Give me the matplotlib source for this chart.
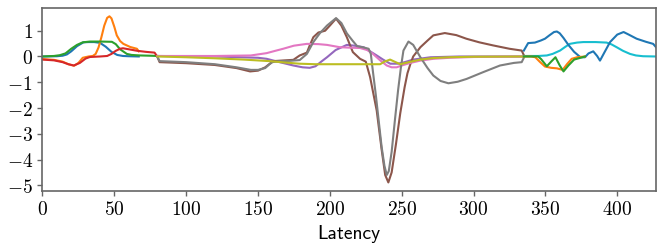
import matplotlib
matplotlib.use("Agg")
import matplotlib.pyplot as plt
from matplotlib.ticker import FuncFormatter

plt.rcParams['mathtext.fontset'] = 'cm'

# ---- first block (latency 0 - 80) ----
a0_x = [0, 10, 14, 17, 20, 24, 28.5, 32, 36, 40, 44, 48, 52, 56, 60, 67]
a0_y = [0, 0.01, 0.03, 0.08, 0.2, 0.4, 0.55, 0.56, 0.56, 0.53, 0.38, 0.18, 0.06, 0.02, 0.01, 0.0]

a1_x = [0, 8, 14, 18, 22, 25, 28, 32, 35, 37, 39, 41, 43, 45, 46.6, 48, 50, 51.7, 54, 56.3, 61, 65.7, 67]
a1_y = [-0.1, -0.13, -0.2, -0.3, -0.36, -0.25, -0.05, 0.0, 0.02, 0.1, 0.35, 0.75, 1.2, 1.5, 1.56, 1.48, 1.15, 0.82, 0.6, 0.49, 0.37, 0.3, 0.2]

a2_x = [0, 8, 12, 16, 20, 24, 28, 33, 40, 48.3, 51, 54, 58.7, 62, 68, 75, 80]
a2_y = [0, 0.02, 0.05, 0.12, 0.3, 0.45, 0.55, 0.58, 0.58, 0.57, 0.48, 0.28, 0.1, 0.06, 0.04, 0.03, 0.02]

a3_x = [0, 8, 14, 18, 21.8, 26, 30, 33, 40, 45, 48, 51, 54, 56, 60, 66, 72, 78, 79.6]
a3_y = [-0.12, -0.15, -0.22, -0.3, -0.35, -0.25, -0.08, -0.02, 0.0, 0.02, 0.1, 0.22, 0.3, 0.32, 0.28, 0.22, 0.18, 0.15, 0.02]

# ---- second block (latency 80 - 335) ----
b0_x = [80, 120, 150, 156, 165, 174.6, 181, 186, 190, 194, 198, 204, 211.8, 217, 223.5, 228, 232.6, 237, 242, 247.5, 252, 258, 270, 290, 335]
b0_y = [0.02, 0.0, -0.05, -0.09, -0.22, -0.35, -0.42, -0.44, -0.38, -0.2, -0.03, 0.25, 0.45, 0.42, 0.36, 0.2, 0.04, -0.12, -0.28, -0.28, -0.22, -0.12, -0.03, 0.0, 0.0]

b1_x = [80, 81.5, 100, 120, 135, 144.5, 150, 155, 160.5, 166, 174.6, 179, 184, 186, 188.5, 192, 196.7, 200, 204.3, 208, 211.8, 216, 221, 225, 228, 232.6, 236, 238.5, 240.7, 243, 246, 249, 252, 254, 256, 258, 263, 268, 272, 280, 288, 295, 304, 313.6, 325, 333.5, 335]
b1_y = [-0.02, -0.22, -0.26, -0.33, -0.45, -0.58, -0.55, -0.42, -0.18, -0.16, -0.13, 0.04, 0.15, 0.43, 0.75, 0.93, 1.0, 1.2, 1.47, 1.2, 0.75, 0.17, -0.09, -0.2, -0.8, -2.1, -3.6, -4.6, -4.89, -4.5, -3.4, -2.2, -1.2, -0.65, -0.3, 0.0, 0.36, 0.62, 0.82, 0.91, 0.83, 0.69, 0.55, 0.43, 0.3, 0.23, 0.05]

b2_x = [80, 120, 145, 156, 162, 167.5, 175, 184, 192, 198, 207, 215, 221, 226, 230, 235, 239.6, 243, 246.5, 250, 256, 263, 272, 283.5, 300, 335]
b2_y = [0.02, 0.02, 0.04, 0.13, 0.22, 0.3, 0.42, 0.49, 0.48, 0.45, 0.36, 0.34, 0.33, 0.25, 0.1, -0.15, -0.35, -0.42, -0.42, -0.35, -0.25, -0.16, -0.09, -0.05, -0.02, 0.0]

b3_x = [80, 81.5, 100, 120, 135, 145, 150, 155, 158, 160, 165, 172, 179, 184, 188.5, 193, 198, 204.3, 208, 211.8, 216, 219, 223.5, 227, 228.5, 230, 232, 234, 236, 238, 239.6, 241, 243, 245.4, 247.5, 249.5, 251.2, 254.7, 258, 263, 268, 272, 277, 282.5, 289, 295.2, 306.6, 318.4, 328, 333.5, 335]
b3_y = [-0.02, -0.18, -0.22, -0.3, -0.42, -0.52, -0.52, -0.45, -0.3, -0.22, -0.18, -0.17, -0.14, 0.1, 0.56, 0.9, 1.2, 1.49, 1.3, 0.9, 0.6, 0.4, 0.35, 0.3, 0.1, -0.6, -1.5, -2.5, -3.5, -4.25, -4.6, -4.45, -3.7, -2.4, -1.3, -0.4, 0.23, 0.58, 0.45, -0.03, -0.45, -0.74, -0.95, -1.04, -0.98, -0.87, -0.61, -0.35, -0.25, -0.22, -0.05]

b4_x = [80, 100, 120, 140, 158, 170, 179, 190, 200, 220, 235, 238, 241.9, 245, 249, 255, 263, 272, 283, 300, 335]
b4_y = [0.0, -0.03, -0.07, -0.12, -0.18, -0.24, -0.28, -0.3, -0.3, -0.3, -0.3, -0.2, -0.12, -0.2, -0.3, -0.22, -0.12, -0.06, -0.03, -0.01, 0.0]

# ---- third block (latency 335 - 427) ----
c0_x = [335, 345, 351, 355, 360.2, 364, 367, 372, 376.4, 385, 392.6, 396, 399.6, 404, 408.9, 413, 418, 427]
c0_y = [0.02, 0.02, 0.04, 0.1, 0.23, 0.38, 0.49, 0.54, 0.56, 0.56, 0.54, 0.47, 0.36, 0.22, 0.1, 0.04, 0.01, 0.0]

c1_x = [335, 338, 342.7, 346.8, 349.7, 353, 356, 358, 360, 362.6, 366, 370, 374.4, 377.5, 380, 383.3, 386, 388, 391, 395, 400, 404.4, 408, 413.5, 420, 425, 427]
c1_y = [0.23, 0.52, 0.54, 0.62, 0.69, 0.83, 0.95, 0.97, 0.9, 0.72, 0.45, 0.18, -0.03, -0.03, 0.12, 0.2, 0.02, -0.16, 0.15, 0.56, 0.85, 0.95, 0.85, 0.69, 0.57, 0.49, 0.36]

c2_x = [335, 340, 343, 346, 349.7, 354, 358, 362, 365, 368.3, 372, 377.5]
c2_y = [0.0, 0.0, -0.03, -0.2, -0.39, -0.44, -0.46, -0.52, -0.3, -0.09, -0.03, 0.0]

c3_x = [335, 345, 347, 351, 354, 357, 360, 362.6, 366, 370, 374.4, 377.5]
c3_y = [0.0, 0.0, -0.1, -0.38, -0.2, -0.03, -0.35, -0.58, -0.35, -0.12, -0.05, 0.0]

series = [(a0_x, a0_y), (a1_x, a1_y), (a2_x, a2_y), (a3_x, a3_y),
          (b0_x, b0_y), (b1_x, b1_y), (b2_x, b2_y), (b3_x, b3_y), (b4_x, b4_y),
          (c0_x, c0_y), (c1_x, c1_y), (c2_x, c2_y), (c3_x, c3_y)]

fig = plt.figure(figsize=(6.64, 2.5), dpi=100)
ax = fig.add_axes([0.064, 0.237, 0.924, 0.731])

for xs, ys in series:
    ax.plot(xs, ys, lw=1.5)

ax.set_xlim(0, 427)
ax.set_yticks([1, 0, -1, -2, -3, -4, -5])
ax.set_xticks([0, 50, 100, 150, 200, 250, 300, 350, 400])
fmt = FuncFormatter(lambda v, p: r"$%g$" % v)
ax.xaxis.set_major_formatter(fmt)
ax.yaxis.set_major_formatter(fmt)
ax.tick_params(labelsize=14, color='0.4', length=3.5, width=1)
for s in ax.spines.values():
    s.set_color('0.4')
    s.set_linewidth(1.2)
ax.set_xlabel("Latency", fontsize=14, fontfamily='cmss10', labelpad=4)

fig.savefig("out.png", dpi=100)
